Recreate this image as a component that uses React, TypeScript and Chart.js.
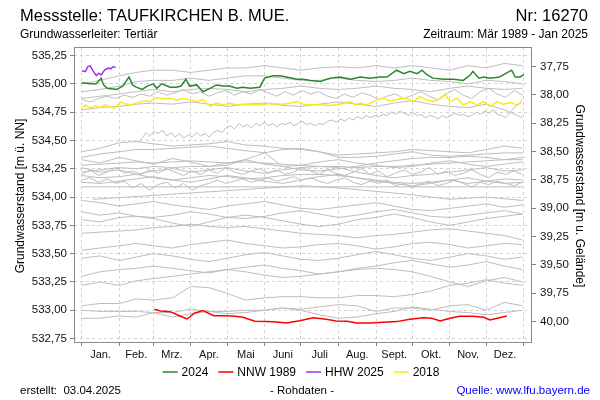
import React, { useEffect, useRef } from 'react';
import { Chart, registerables } from 'chart.js';

Chart.register(...registerables);

const FONT = '"Liberation Sans", Arial, Helvetica, sans-serif';

const TITLE = 'Messstelle: TAUFKIRCHEN B. MUE.';
const NR = 'Nr: 16270';
const SUBTITLE = 'Grundwasserleiter: Tertiär';
const PERIOD = 'Zeitraum: Mär 1989 - Jan 2025';
const Y_LEFT_TITLE = 'Grundwasserstand [m ü. NN]';
const Y_RIGHT_TITLE = 'Grundwasserstand [m u. Gelände]';
const CREATED = 'erstellt:  03.04.2025';
const RAW = '- Rohdaten -';
const SOURCE = 'Quelle: www.lfu.bayern.de';

const monthLabels = ['Jan.', 'Feb.', 'Mrz.', 'Apr.', 'Mai', 'Juni', 'Juli', 'Aug.', 'Sept.', 'Okt.', 'Nov.', 'Dez.'];
const monthStarts = [0, 31, 59, 90, 120, 151, 181, 212, 243, 273, 304, 334, 365];
const leftTicks = [532.75, 533.0, 533.25, 533.5, 533.75, 534.0, 534.25, 534.5, 534.75, 535.0, 535.25];
const rightTicks = [37.75, 38.0, 38.25, 38.5, 38.75, 39.0, 39.25, 39.5, 39.75, 40.0];
const GELAENDE = 572.902;

// ---- highlighted series (day of year, m ü. NN) ----
const y2024Days = [0, 7, 12, 16, 18, 21, 29, 34, 39, 42, 45, 50, 54, 59, 62, 66, 73, 78, 82, 86, 89, 95, 100, 106, 111, 117, 122, 128, 133, 139, 147, 151, 158, 164, 169, 178, 183, 189, 197, 205, 213, 222, 230, 238, 246, 252, 260, 266, 271, 277, 281, 285, 290, 299, 307, 315, 321, 323, 328, 332, 337, 345, 355, 358, 362, 365];
const y2024Vals = [535.01, 535.0, 535.0, 535.05, 534.99, 534.96, 534.95, 534.98, 535.06, 534.99, 534.97, 534.95, 534.98, 535.0, 534.96, 535.0, 534.97, 534.97, 534.98, 535.04, 534.98, 534.99, 534.93, 534.96, 534.99, 534.98, 534.98, 534.96, 534.97, 534.96, 534.97, 535.05, 535.07, 535.07, 535.06, 535.04, 535.04, 535.03, 535.02, 535.05, 535.06, 535.04, 535.06, 535.05, 535.06, 535.06, 535.12, 535.09, 535.11, 535.09, 535.12, 535.08, 535.05, 535.04, 535.04, 535.03, 535.08, 535.11, 535.05, 535.06, 535.05, 535.06, 535.12, 535.06, 535.06, 535.08];

const nnw1989Days = [60, 65, 73, 81, 87, 93, 100, 109, 117, 125, 133, 143, 153, 161, 169, 180, 191, 202, 210, 219, 227, 238, 249, 260, 271, 282, 289, 296, 304, 312, 323, 332, 337, 345, 351];
const nnw1989Vals = [533.009, 532.994, 532.988, 532.95, 532.923, 532.974, 532.997, 532.952, 532.952, 532.95, 532.938, 532.903, 532.9, 532.897, 532.888, 532.908, 532.935, 532.921, 532.906, 532.903, 532.888, 532.888, 532.894, 532.9, 532.921, 532.935, 532.93, 532.906, 532.93, 532.947, 532.947, 532.938, 532.915, 532.935, 532.95];

const hhw2025Days = [0, 3, 5, 7, 8, 10, 12, 14, 16, 19, 22, 24, 26, 28];
const hhw2025Vals = [535.114, 535.108, 535.152, 535.158, 535.138, 535.103, 535.073, 535.094, 535.079, 535.123, 535.138, 535.132, 535.152, 535.143];

const y2018Days = [0, 3, 7, 11, 15, 19, 23, 27, 32, 36, 40, 45, 51, 56, 62, 67, 73, 78, 84, 89, 95, 100, 106, 111, 117, 122, 128, 133, 139, 145, 150, 155, 161, 166, 172, 178, 183, 189, 197, 205, 213, 222, 226, 230, 235, 244, 249, 255, 263, 268, 274, 279, 285, 290, 296, 300, 304, 310, 315, 321, 326, 332, 337, 343, 348, 354, 359, 363];
const y2018Vals = [534.785, 534.814, 534.785, 534.808, 534.79, 534.814, 534.799, 534.785, 534.838, 534.823, 534.814, 534.829, 534.849, 534.843, 534.878, 534.867, 534.873, 534.858, 534.873, 534.858, 534.843, 534.858, 534.799, 534.829, 534.814, 534.829, 534.814, 534.82, 534.814, 534.82, 534.814, 534.829, 534.823, 534.82, 534.829, 534.843, 534.82, 534.814, 534.814, 534.808, 534.82, 534.843, 534.814, 534.829, 534.814, 534.858, 534.873, 534.849, 534.867, 534.873, 534.843, 534.887, 534.858, 534.843, 534.867, 534.908, 534.843, 534.873, 534.814, 534.843, 534.814, 534.843, 534.799, 534.843, 534.82, 534.834, 534.814, 534.829];

// ---- other years (grey) ----
const semiDays = [0, 15, 31, 45, 59, 75, 90, 105, 120, 135, 151, 166, 181, 196, 212, 227, 243, 258, 273, 288, 304, 319, 334, 349, 364];
const weekDays = [0, 7, 14, 21, 28, 35, 42, 49, 56, 63, 70, 77, 84, 91, 98, 105, 112, 119, 126, 133, 140, 147, 154, 161, 168, 175, 182, 189, 196, 203, 210, 217, 224, 231, 238, 245, 252, 259, 266, 273, 280, 287, 294, 301, 308, 315, 322, 329, 336, 343, 350, 357, 364];

const g01 = [535.0, 535.03, 535.07, 535.1, 535.12, 535.12, 535.1, 535.12, 535.14, 535.14, 535.16, 535.14, 535.12, 535.14, 535.15, 535.14, 535.16, 535.14, 535.16, 535.14, 535.12, 535.16, 535.14, 535.18, 535.16];
const g02 = [534.93, 534.95, 534.98, 535.02, 535.03, 535.03, 535.05, 535.03, 535.05, 535.07, 535.07, 535.05, 535.03, 535.03, 535.05, 535.03, 535.02, 535.03, 535.05, 535.03, 535.02, 535.0, 535.03, 535.02, 535.0];
const g03 = [534.87, 534.89, 534.91, 534.93, 534.95, 534.93, 534.95, 534.96, 534.95, 534.93, 534.95, 534.96, 534.98, 534.96, 534.95, 534.96, 534.98, 534.96, 534.95, 534.93, 534.96, 534.98, 534.96, 534.95, 534.96];
const g04w = [534.86, 534.84, 534.87, 534.89, 534.87, 534.9, 534.88, 534.91, 534.89, 534.93, 534.9, 534.92, 534.95, 534.91, 534.93, 534.89, 534.92, 534.94, 534.9, 534.93, 534.91, 534.95, 534.92, 534.89, 534.93, 534.9, 534.94, 534.91, 534.93, 534.89, 534.87, 534.91, 534.88, 534.92, 534.9, 534.86, 534.89, 534.91, 534.87, 534.9, 534.93, 534.89, 534.86, 534.91, 534.95, 534.9, 534.87, 534.93, 534.96, 534.91, 534.88, 534.94, 534.9];
const g05 = [534.77, 534.79, 534.8, 534.82, 534.83, 534.82, 534.84, 534.82, 534.8, 534.82, 534.83, 534.81, 534.8, 534.82, 534.84, 534.82, 534.8, 534.83, 534.85, 534.82, 534.8, 534.79, 534.82, 534.77, 534.7];

const l01Days = [46, 50, 53, 56, 60, 63, 67, 70, 74, 77, 81, 84, 88, 91, 95, 98, 102, 105, 109, 112, 116, 119, 123, 126, 130, 133, 137, 140, 144, 147, 151, 154, 158, 161, 165, 168, 172, 175, 179, 182, 186, 189, 193, 196, 200, 203, 207, 210, 214, 217, 221, 224, 228, 231, 235, 238, 242, 245, 249, 252, 256, 259, 263, 266, 270, 273, 277, 280, 284, 287, 291, 294, 298, 301, 305, 308, 312, 315, 319, 322, 326, 329, 333, 336, 340, 343, 347, 350, 354, 357, 361, 364];
const l01Vals = [534.48, 534.52, 534.57, 534.54, 534.58, 534.56, 534.59, 534.54, 534.57, 534.53, 534.56, 534.52, 534.55, 534.53, 534.57, 534.54, 534.56, 534.53, 534.57, 534.59, 534.57, 534.61, 534.63, 534.6, 534.65, 534.62, 534.64, 534.61, 534.65, 534.63, 534.66, 534.63, 534.65, 534.62, 534.65, 534.64, 534.66, 534.63, 534.65, 534.67, 534.64, 534.65, 534.63, 534.65, 534.64, 534.67, 534.68, 534.66, 534.69, 534.67, 534.7, 534.68, 534.71, 534.69, 534.72, 534.7, 534.72, 534.71, 534.73, 534.72, 534.75, 534.73, 534.76, 534.74, 534.72, 534.75, 534.72, 534.73, 534.7, 534.72, 534.71, 534.69, 534.72, 534.7, 534.72, 534.74, 534.72, 534.73, 534.71, 534.72, 534.75, 534.73, 534.76, 534.74, 534.77, 534.73, 534.72, 534.7, 534.75, 534.79, 534.82, 534.86];

const m01 = [534.4, 534.43, 534.48, 534.49, 534.47, 534.45, 534.46, 534.47, 534.49, 534.46, 534.45, 534.43, 534.42, 534.4, 534.37, 534.38, 534.39, 534.4, 534.42, 534.41, 534.4, 534.39, 534.42, 534.45, 534.43];
const m02 = [534.35, 534.38, 534.4, 534.42, 534.42, 534.43, 534.44, 534.45, 534.43, 534.41, 534.39, 534.42, 534.43, 534.4, 534.35, 534.35, 534.36, 534.38, 534.4, 534.37, 534.36, 534.37, 534.38, 534.39, 534.39];
const m03 = [534.28, 534.29, 534.3, 534.31, 534.3, 534.31, 534.32, 534.31, 534.3, 534.31, 534.3, 534.29, 534.28, 534.27, 534.27, 534.26, 534.27, 534.27, 534.28, 534.29, 534.3, 534.31, 534.32, 534.33, 534.33];
const m04 = [534.22, 534.24, 534.26, 534.25, 534.27, 534.26, 534.27, 534.27, 534.28, 534.33, 534.39, 534.27, 534.24, 534.23, 534.25, 534.27, 534.3, 534.32, 534.34, 534.35, 534.35, 534.36, 534.35, 534.33, 534.35];
const m05w = [534.2, 534.24, 534.19, 534.22, 534.26, 534.21, 534.23, 534.2, 534.24, 534.21, 534.25, 534.22, 534.19, 534.23, 534.2, 534.24, 534.21, 534.26, 534.22, 534.2, 534.23, 534.25, 534.21, 534.24, 534.2, 534.22, 534.26, 534.23, 534.2, 534.24, 534.21, 534.19, 534.22, 534.25, 534.2, 534.23, 534.18, 534.21, 534.24, 534.2, 534.22, 534.26, 534.2, 534.23, 534.19, 534.21, 534.24, 534.2, 534.17, 534.22, 534.2, 534.23, 534.2];
const m06w = [534.15, 534.17, 534.13, 534.16, 534.12, 534.14, 534.08, 534.12, 534.06, 534.11, 534.13, 534.08, 534.12, 534.06, 534.1, 534.12, 534.15, 534.12, 534.14, 534.16, 534.13, 534.15, 534.17, 534.14, 534.16, 534.18, 534.15, 534.17, 534.14, 534.12, 534.15, 534.17, 534.13, 534.11, 534.14, 534.12, 534.15, 534.1, 534.12, 534.08, 534.12, 534.14, 534.1, 534.12, 534.15, 534.12, 534.09, 534.13, 534.11, 534.14, 534.12, 534.1, 534.13];
const m07 = [534.26, 534.22, 534.24, 534.2, 534.23, 534.25, 534.22, 534.24, 534.26, 534.23, 534.21, 534.24, 534.26, 534.27, 534.26, 534.22, 534.19, 534.17, 534.19, 534.2, 534.22, 534.24, 534.26, 534.23, 534.24];
const m08 = [534.19, 534.17, 534.18, 534.2, 534.17, 534.15, 534.17, 534.19, 534.18, 534.16, 534.17, 534.19, 534.2, 534.2, 534.19, 534.17, 534.15, 534.13, 534.12, 534.13, 534.15, 534.12, 534.14, 534.16, 534.15];
const m09Days = [0, 364];
const m09Vals = [534.09, 534.09];
const m10Days = [9, 183, 212, 243, 273, 304, 334, 364];
const m10Vals = [533.98, 534.1, 534.08, 534.05, 534.02, 533.98, 534.0, 533.97];
const m11 = [533.97, 533.95, 533.92, 533.94, 533.96, 533.93, 533.91, 533.89, 533.92, 533.94, 533.96, 533.93, 533.9, 533.89, 533.91, 533.93, 533.95, 533.92, 533.89, 533.88, 533.9, 533.92, 533.94, 533.91, 533.93];
const m12 = [533.87, 533.84, 533.86, 533.83, 533.82, 533.84, 533.87, 533.85, 533.82, 533.81, 533.83, 533.86, 533.88, 533.85, 533.82, 533.84, 533.87, 533.89, 533.86, 533.83, 533.82, 533.84, 533.86, 533.88, 533.85];
const m13 = [534.33, 534.3, 534.35, 534.32, 534.29, 534.34, 534.31, 534.27, 534.3, 534.33, 534.29, 534.27, 534.28, 534.31, 534.33, 534.3, 534.28, 534.26, 534.27, 534.3, 534.32, 534.29, 534.27, 534.29, 534.31];
const m14 = [534.13, 534.12, 534.14, 534.16, 534.18, 534.15, 534.13, 534.16, 534.19, 534.17, 534.14, 534.12, 534.15, 534.18, 534.2, 534.17, 534.14, 534.12, 534.1, 534.12, 534.15, 534.17, 534.14, 534.12, 534.13];

const la = [533.68, 533.69, 533.7, 533.71, 533.73, 533.74, 533.76, 533.74, 533.73, 533.74, 533.72, 533.7, 533.68, 533.67, 533.66, 533.64, 533.66, 533.67, 533.69, 533.71, 533.72, 533.7, 533.68, 533.66, 533.62];
const lb = [533.53, 533.55, 533.57, 533.59, 533.57, 533.55, 533.58, 533.6, 533.62, 533.59, 533.57, 533.55, 533.56, 533.58, 533.59, 533.57, 533.54, 533.56, 533.59, 533.6, 533.58, 533.55, 533.57, 533.59, 533.58];
const lc = [533.46, 533.48, 533.44, 533.47, 533.5, 533.48, 533.45, 533.43, 533.46, 533.49, 533.51, 533.48, 533.45, 533.44, 533.46, 533.49, 533.52, 533.49, 533.46, 533.44, 533.47, 533.5, 533.48, 533.45, 533.47];
const ld = [533.3, 533.34, 533.36, 533.37, 533.39, 533.37, 533.35, 533.33, 533.36, 533.38, 533.4, 533.37, 533.35, 533.32, 533.34, 533.37, 533.39, 533.42, 533.44, 533.41, 533.38, 533.4, 533.43, 533.39, 533.36];
const le = [533.22, 533.25, 533.22, 533.26, 533.28, 533.3, 533.32, 533.34, 533.36, 533.34, 533.31, 533.29, 533.3, 533.32, 533.34, 533.36, 533.37, 533.36, 533.34, 533.3, 533.25, 533.21, 533.26, 533.29, 533.25];
const lf = [533.04, 533.06, 533.06, 533.1, 533.09, 533.11, 533.21, 533.2, 533.15, 533.09, 533.11, 533.12, 533.12, 533.11, 533.11, 533.13, 533.13, 533.12, 533.14, 533.17, 533.22, 533.24, 533.27, 533.24, 533.22];
const lg = [533.0, 532.99, 532.99, 532.99, 532.98, 532.98, 533.01, 532.99, 532.99, 533.0, 533.0, 533.02, 533.01, 533.03, 533.05, 533.04, 532.99, 533.02, 533.02, 533.0, 533.04, 533.05, 533.0, 533.07, 533.04];
const lh = [532.93, 532.93, 532.95, 532.94, 532.98, 532.94, 532.97, 532.99, 532.97, 532.98, 533.0, 533.02, 533.0, 532.96, 532.93, 532.94, 532.97, 532.99, 533.03, 533.01, 532.99, 532.98, 532.96, 532.98, 533.0];
const li = [533.8, 533.78, 533.82, 533.83, 533.81, 533.77, 533.74, 533.78, 533.82, 533.84, 533.82, 533.79, 533.76, 533.74, 533.76, 533.8, 533.82, 533.85, 533.82, 533.78, 533.75, 533.78, 533.81, 533.83, 533.85];

const greySeries: [number[], number[]][] = [
  [semiDays, g01], [semiDays, g02], [semiDays, g03], [weekDays, g04w], [semiDays, g05],
  [l01Days, l01Vals],
  [semiDays, m01], [semiDays, m02], [semiDays, m03], [semiDays, m04], [weekDays, m05w], [weekDays, m06w],
  [semiDays, m07], [semiDays, m08], [m09Days, m09Vals], [m10Days, m10Vals], [semiDays, m11], [semiDays, m12],
  [semiDays, m13], [semiDays, m14],
  [semiDays, la], [semiDays, lb], [semiDays, lc], [semiDays, ld], [semiDays, le], [semiDays, lf],
  [semiDays, lg], [semiDays, lh], [semiDays, li],
];

const legendItems = [
  { label: '2024', color: '#2b862b' },
  { label: 'NNW 1989', color: '#ff0000' },
  { label: 'HHW 2025', color: '#9933ff' },
  { label: '2018', color: '#ffe81a' },
];

const pts = (days: number[], vals: number[]) => days.map((d, i) => ({ x: d, y: vals[i] }));
const fmt = (v: number) => v.toFixed(2).replace('.', ',');

const monthMids = monthStarts.slice(0, 12).map((s, i) => (s + monthStarts[i + 1]) / 2);
const xTickValues = [...monthStarts, ...monthMids].sort((a, b) => a - b);
const isBoundary = (v: number) => monthStarts.indexOf(v) >= 0;

const textPlugin = {
  id: 'textPlugin',
  afterDraw(chart: any) {
    const ctx = chart.ctx as CanvasRenderingContext2D;
    const { left, top, right, bottom } = chart.chartArea;
    ctx.save();
    ctx.strokeStyle = '#8a8a8a';
    ctx.lineWidth = 1;
    ctx.setLineDash([]);
    ctx.strokeRect(left + 0.5, top - 0.5, right - left - 1, bottom - top + 1);

    ctx.fillStyle = '#000';
    ctx.textBaseline = 'alphabetic';
    ctx.font = `16.5px ${FONT}`;
    ctx.textAlign = 'left';
    ctx.fillText(TITLE, 20, 21);
    ctx.textAlign = 'right';
    ctx.fillText(NR, 588, 21);
    ctx.font = `12px ${FONT}`;
    ctx.textAlign = 'left';
    ctx.fillText(SUBTITLE, 20, 38);
    ctx.textAlign = 'right';
    ctx.fillText(PERIOD, 588, 38);

    ctx.textAlign = 'center';
    ctx.textBaseline = 'middle';
    ctx.save();
    ctx.translate(21, 196);
    ctx.rotate(-Math.PI / 2);
    ctx.fillText(Y_LEFT_TITLE, 0, 0);
    ctx.restore();
    ctx.save();
    ctx.translate(579, 196);
    ctx.rotate(Math.PI / 2);
    ctx.fillText(Y_RIGHT_TITLE, 0, 0);
    ctx.restore();

    // legend
    ctx.font = `12px ${FONT}`;
    const lineLen = 15, gapLine = 4, gapItem = 10;
    const widths = legendItems.map((it) => lineLen + gapLine + ctx.measureText(it.label).width);
    const total = widths.reduce((a, b) => a + b, 0) + gapItem * (legendItems.length - 1);
    let x = 301 - total / 2;
    const ly = 372;
    ctx.textAlign = 'left';
    ctx.textBaseline = 'middle';
    legendItems.forEach((it, i) => {
      ctx.strokeStyle = it.color;
      ctx.lineWidth = 1.5;
      ctx.beginPath();
      ctx.moveTo(x, ly);
      ctx.lineTo(x + lineLen, ly);
      ctx.stroke();
      ctx.fillStyle = '#000';
      ctx.fillText(it.label, x + lineLen + gapLine, ly + 1);
      x += widths[i] + gapItem;
    });

    // footer
    ctx.font = `11.5px ${FONT}`;
    ctx.textBaseline = 'alphabetic';
    ctx.fillStyle = '#000';
    ctx.textAlign = 'left';
    ctx.fillText(CREATED, 20, 394);
    ctx.textAlign = 'center';
    ctx.fillText(RAW, 302, 394);
    ctx.fillStyle = '#0000ff';
    ctx.textAlign = 'right';
    ctx.fillText(SOURCE, 590, 394);
    ctx.restore();
  },
};

export default function App() {
  const ref = useRef<HTMLCanvasElement>(null);
  useEffect(() => {
    const canvas = ref.current;
    if (!canvas) return;
    const greyDatasets = greySeries.map(([d, v]) => ({
      data: pts(d, v),
      borderColor: '#bdbdbd',
      borderWidth: 1,
      yAxisID: 'y',
    }));
    const chart = new Chart(canvas, {
      type: 'line',
      data: {
        datasets: [
          { data: pts(hhw2025Days, hhw2025Vals), borderColor: '#9933ff', borderWidth: 1.5, yAxisID: 'y' },
          { data: pts(y2024Days, y2024Vals), borderColor: '#2b862b', borderWidth: 1.5, yAxisID: 'y' },
          { data: pts(nnw1989Days, nnw1989Vals), borderColor: '#ff0000', borderWidth: 1.5, yAxisID: 'y' },
          { data: pts(y2018Days, y2018Vals), borderColor: '#ffe81a', borderWidth: 1.5, yAxisID: 'y' },
          ...greyDatasets,
        ] as any,
      },
      options: {
        animation: false,
        responsive: false,
        devicePixelRatio: 1,
        layout: { padding: { top: 48, left: 0, right: 0, bottom: 0 } },
        elements: { point: { radius: 0 }, line: { tension: 0, fill: false } },
        plugins: { legend: { display: false }, title: { display: false }, tooltip: { enabled: false } },
        scales: {
          x: {
            type: 'linear',
            min: -6.4,
            max: 371.8,
            afterBuildTicks: (s: any) => {
              s.ticks = xTickValues.map((v) => ({ value: v }));
            },
            afterFit: (s: any) => {
              s.height = 58;
            },
            ticks: {
              autoSkip: false,
              maxRotation: 0,
              minRotation: 0,
              padding: 2,
              color: '#111',
              font: { family: FONT, size: 11 },
              callback: (v: any) => {
                const i = monthMids.indexOf(Number(v));
                return i >= 0 ? monthLabels[i] : '';
              },
            },
            grid: {
              color: (c: any) => (c.tick && isBoundary(c.tick.value) ? '#d2d2d2' : 'rgba(0,0,0,0)'),
              tickColor: (c: any) => (c.tick && isBoundary(c.tick.value) ? '#808080' : 'rgba(0,0,0,0)'),
              tickLength: 4,
              lineWidth: 1,
            },
            border: { display: false, dash: [3, 3] },
          } as any,
          y: {
            type: 'linear',
            position: 'left',
            min: 532.72,
            max: 535.316,
            afterBuildTicks: (s: any) => {
              s.ticks = leftTicks.map((v) => ({ value: v }));
            },
            afterFit: (s: any) => {
              s.width = 74;
            },
            ticks: {
              padding: 3,
              color: '#111',
              font: { family: FONT, size: 11.5 },
              callback: (v: any) => fmt(Number(v)),
            },
            grid: { color: '#d2d2d2', tickColor: '#808080', tickLength: 4, lineWidth: 1 },
            border: { display: false, dash: [3, 3] },
          } as any,
          y2: {
            type: 'linear',
            position: 'right',
            reverse: true,
            min: GELAENDE - 535.316,
            max: GELAENDE - 532.72,
            afterBuildTicks: (s: any) => {
              s.ticks = rightTicks.map((v) => ({ value: v }));
            },
            afterFit: (s: any) => {
              s.width = 68;
            },
            ticks: {
              padding: 4,
              color: '#111',
              font: { family: FONT, size: 11.5 },
              callback: (v: any) => fmt(Number(v)),
            },
            grid: { drawOnChartArea: false, color: '#808080', tickColor: '#808080', tickLength: 4 },
            border: { display: false },
          } as any,
        },
      },
      plugins: [textPlugin],
    });
    return () => chart.destroy();
  }, []);
  return (
    <div style={{ position: 'fixed', left: 0, top: 0, width: 600, height: 400, background: '#fff' }}>
      <canvas ref={ref} width={600} height={400} style={{ display: 'block', width: 600, height: 400 }} />
    </div>
  );
}
